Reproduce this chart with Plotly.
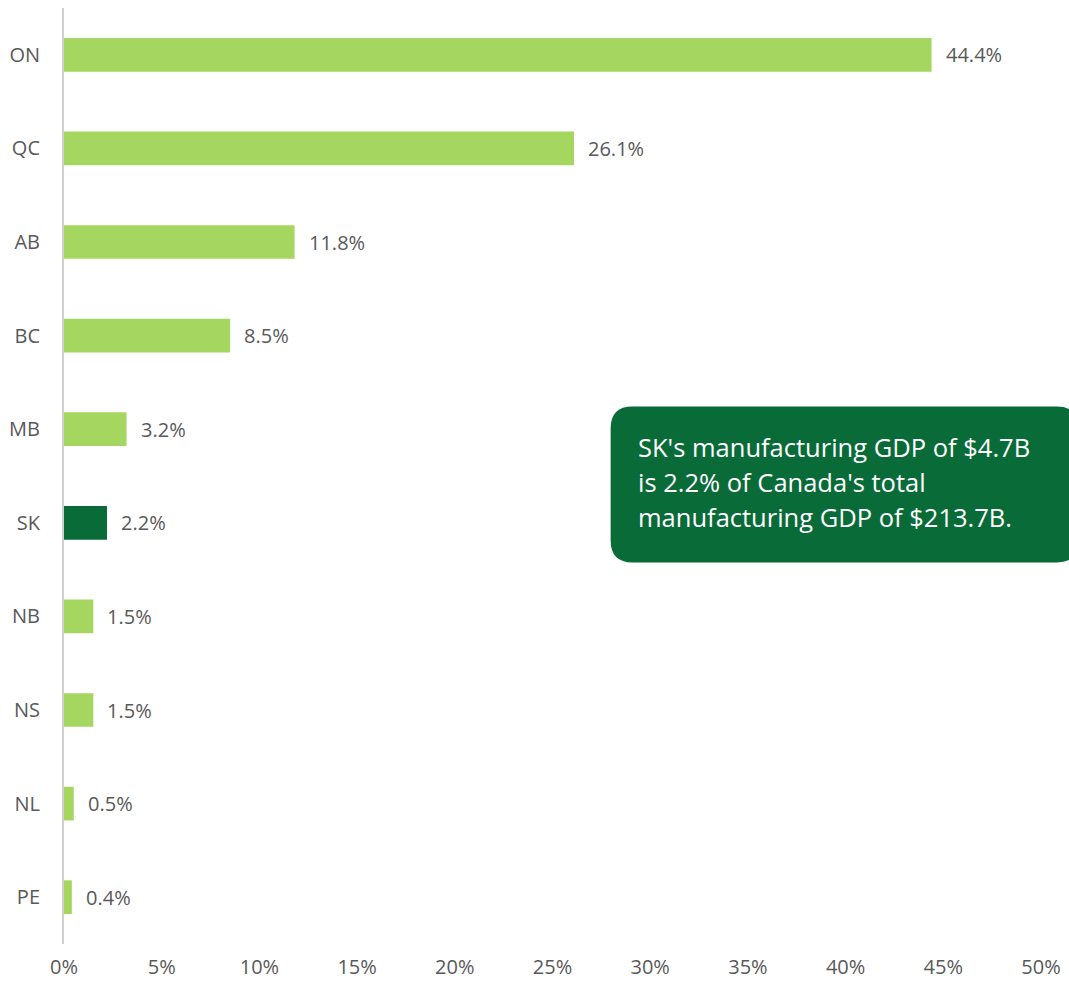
import plotly.graph_objects as go

provinces = ["ON", "QC", "AB", "BC", "MB", "SK", "NB", "NS", "NL", "PE"]
shares = [44.4, 26.1, 11.8, 8.5, 3.2, 2.2, 1.5, 1.5, 0.5, 0.4]
highlight = "SK"
x_ticks = [0, 5, 10, 15, 20, 25, 30, 35, 40, 45, 50]
x_tick_labels = [f"{t}%" for t in x_ticks]
note_lines = ["SK's manufacturing GDP of $4.7B",
              "is 2.2% of Canada's total",
              "manufacturing GDP of $213.7B."]

LIGHT = "#a5d65f"
DARK = "#086b38"
GREY = "#595959"
FONT = "Open Sans"

W, H = 1069, 988
L, R, T, B = 64, 22, 8, 43

colors = [DARK if p == highlight else LIGHT for p in provinces]

fig = go.Figure(go.Bar(
    x=shares, y=provinces, orientation="h",
    marker=dict(color=colors, line=dict(width=0)),
    hoverinfo="skip",
))

for p, v in zip(provinces, shares):
    fig.add_annotation(x=v, y=p, text=f"{v:.1f}%", showarrow=False,
                       xanchor="left", xshift=12,
                       font=dict(family=FONT, size=20, color=GREY))

# rounded note box (pixel geometry converted to paper coords)
pw, ph = W - L - R, H - T - B
def px(x): return (x - L) / pw
def py(y): return (H - B - y) / ph
x0, x1, y0, y1, r = 614, 1085, 407, 563, 22
rx, ry = r / pw, r / ph
path = (f"M {px(x0)+rx},{py(y0)} L {px(x1)-rx},{py(y0)} "
        f"Q {px(x1)},{py(y0)} {px(x1)},{py(y0)-ry} "
        f"L {px(x1)},{py(y1)+ry} Q {px(x1)},{py(y1)} {px(x1)-rx},{py(y1)} "
        f"L {px(x0)+rx},{py(y1)} Q {px(x0)},{py(y1)} {px(x0)},{py(y1)+ry} "
        f"L {px(x0)},{py(y0)-ry} Q {px(x0)},{py(y0)} {px(x0)+rx},{py(y0)} Z")
fig.add_shape(type="path", path=path, xref="paper", yref="paper",
              fillcolor=DARK, line=dict(width=0), layer="above")
for i, line in enumerate(note_lines):
    fig.add_annotation(x=px(640), y=py(447 + i * 35.5), xref="paper", yref="paper",
                       text=line, showarrow=False, xanchor="left", yanchor="middle",
                       font=dict(family=FONT, size=25.5, color="white"))

fig.update_layout(
    width=W, height=H,
    margin=dict(l=L, r=R, t=T, b=B, pad=0),
    plot_bgcolor="white", paper_bgcolor="white",
    bargap=0.64, showlegend=False,
    font=dict(family=FONT, size=20, color=GREY),
)
fig.update_xaxes(range=[0, 50], tickvals=x_ticks, ticktext=x_tick_labels,
                 showgrid=False, zeroline=False, showline=False, ticks="",
                 ticklabelstandoff=9, tickfont=dict(size=20, color=GREY),
                 fixedrange=True)
fig.update_yaxes(categoryorder="array", categoryarray=provinces[::-1],
                 showgrid=False, zeroline=False, showline=True,
                 linecolor="#d0d0d0", linewidth=2, ticks="",
                 ticklabelstandoff=18, tickfont=dict(size=20, color=GREY),
                 fixedrange=True)

fig.write_html("out.html", config={"displayModeBar": False},
               post_script="document.body.style.margin='0';document.body.style.overflow='hidden';")
